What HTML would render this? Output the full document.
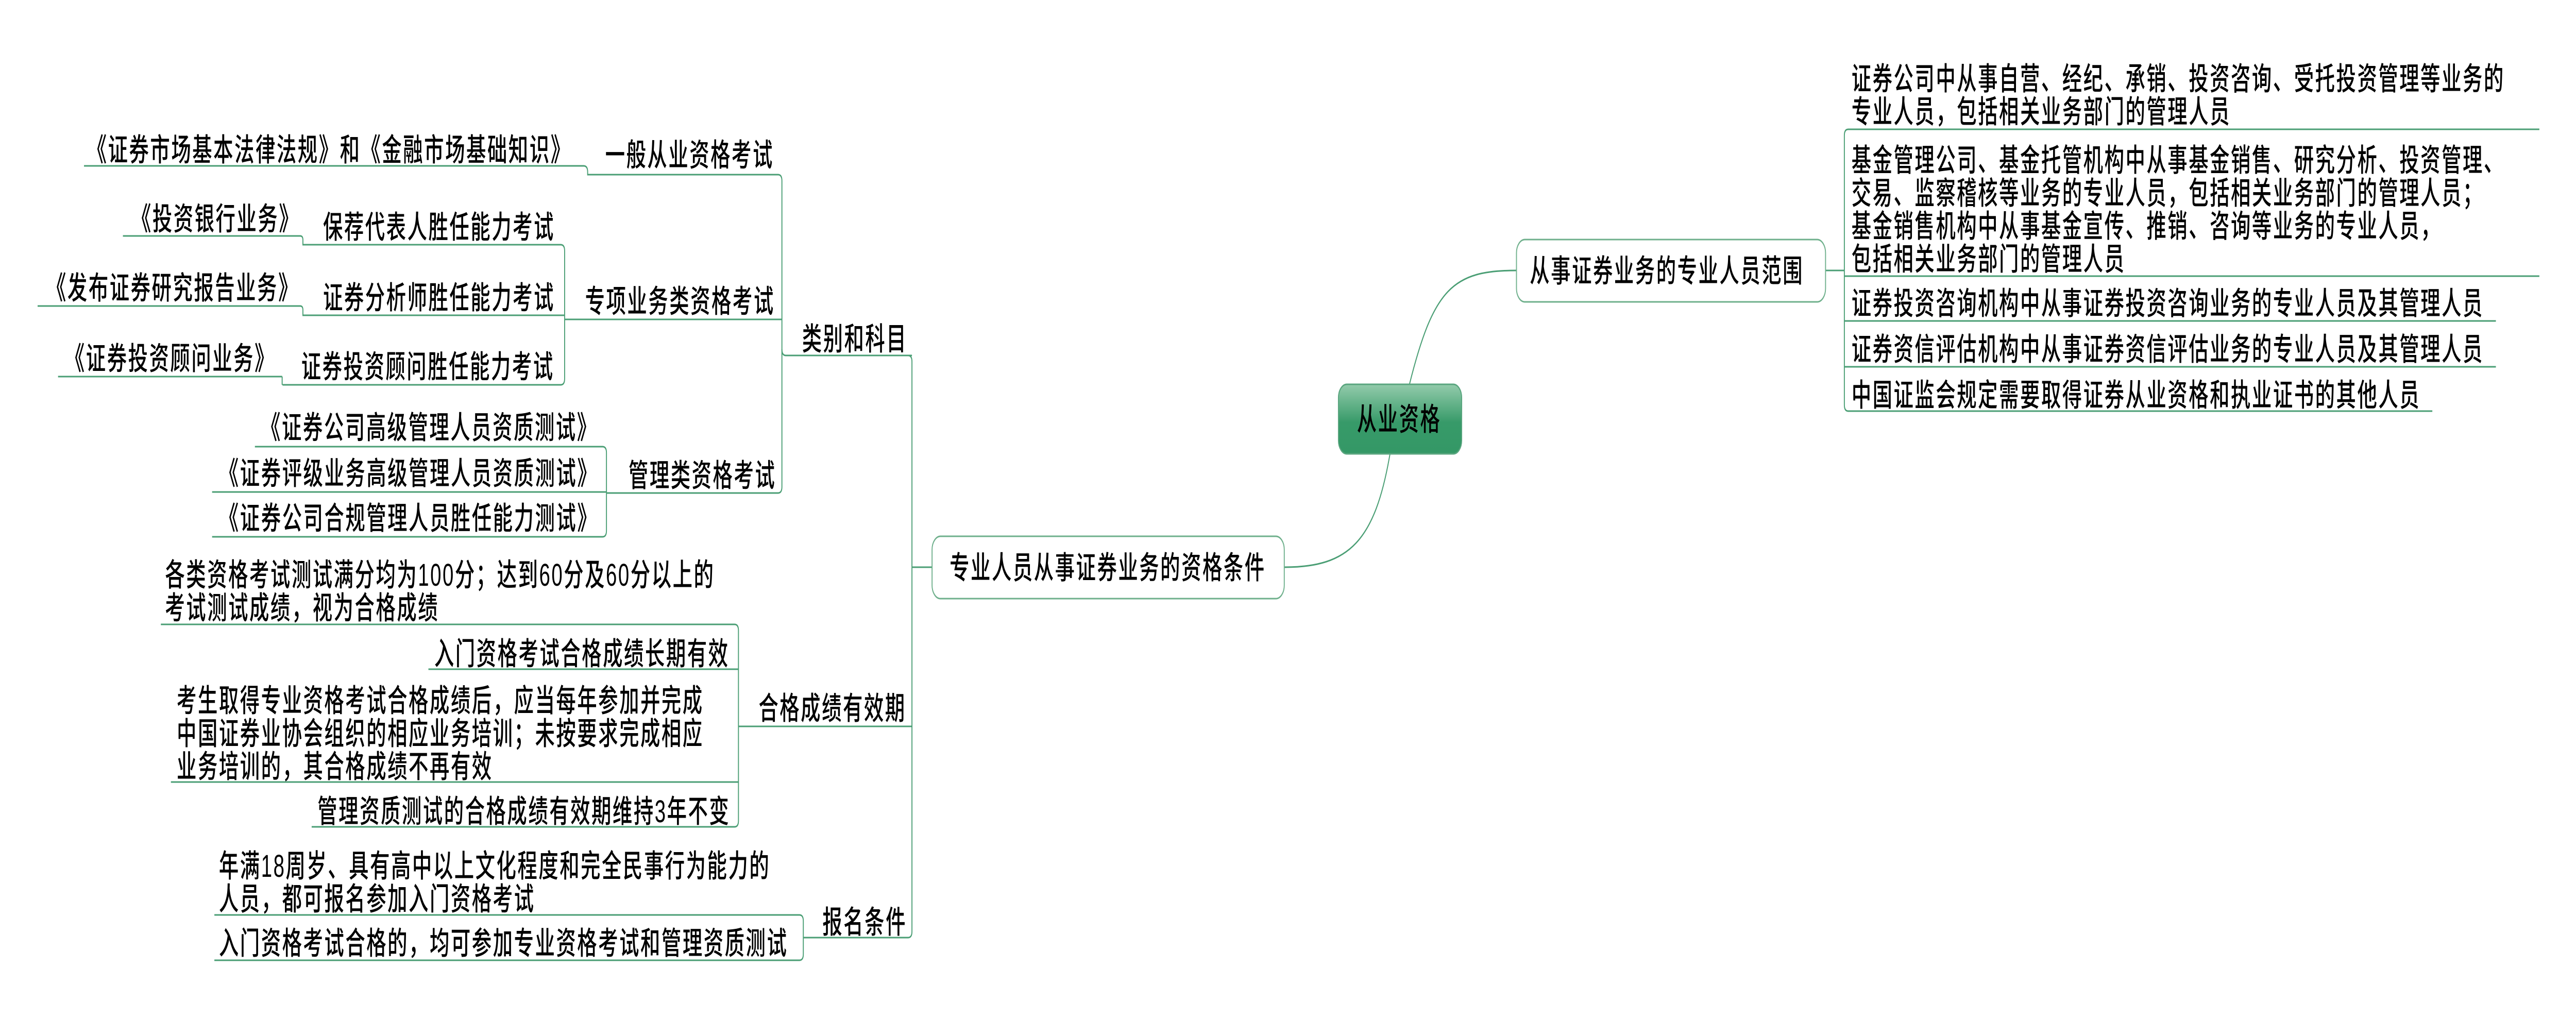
<!DOCTYPE html>
<html><head><meta charset="utf-8">
<style>
html,body{margin:0;padding:0;background:#fff;overflow:hidden;width:100vw;height:100vh;}
svg{display:block;width:100vw;height:100vh;}
text{font-family:"Liberation Sans","Noto Sans CJK SC",sans-serif;font-size:61px;letter-spacing:4px;fill:#000;font-weight:500;}
</style></head><body>
<svg viewBox="0 0 7943 1978" preserveAspectRatio="none">
<defs><linearGradient id="g" x1="0" y1="0" x2="0" y2="1">
<stop offset="0" stop-color="#93cbab"/><stop offset="0.55" stop-color="#379a69"/><stop offset="1" stop-color="#349866"/></linearGradient></defs>
<g fill="none" stroke="#4a9e74" stroke-width="3">
<path d="M259 322 H1800 Q1812 322 1812 334 V339 H2399 Q2411 339 2411 351 V945 Q2411 957 2399 957 H1870"/>
<path d="M2411 678 Q2411 690 2423 690 H2812"/>
<path d="M379 458 H926 Q934 458 934 466 V475 H1729 Q1741 475 1741 487 V735 Q1741 747 1729 747 H871"/>
<path d="M870 731 V747"/>
<path d="M179 731 H870"/>
<path d="M116 594 H926 Q934 594 934 602 V612 H1741"/>
<path d="M1741 620 H2411"/>
<path d="M786 867 H1858 Q1870 867 1870 879 V1030 Q1870 1042 1858 1042 H654"/>
<path d="M654 955 H1870"/>
<path d="M496 1212 H2265 Q2277 1212 2277 1224 V1593 Q2277 1605 2265 1605 H961"/>
<path d="M1321 1299 H2277"/>
<path d="M527 1518 H2277"/>
<path d="M2277 1410 H2812"/>
<path d="M661 1776 H2465 Q2477 1776 2477 1788 V1852 Q2477 1864 2465 1864 H661"/>
<path d="M2477 1820 H2800 Q2812 1820 2812 1808"/>
<path d="M2812 1808 V702 Q2812 690 2800 690"/>
<path d="M2812 1101 H2873"/>
<path d="M4286 881 C4240 1050 4160 1101 3961 1101"/>
<path d="M4346 746 C4420 560 4480 525 4675 525"/>
<path d="M5630 525 H5687"/>
<path d="M7830 251 H5699 Q5687 251 5687 263 V786 Q5687 798 5699 798 H7500"/>
<path d="M5687 536 H7830"/>
<path d="M5687 623 H7696"/>
<path d="M5687 712 H7696"/>
</g>
<rect x="4127" y="746" width="380" height="135" rx="26" fill="url(#g)" stroke="#5aa57f" stroke-width="3"/>
<rect x="2874" y="1041" width="1086" height="121" rx="26" fill="#fff" stroke="#6fb08c" stroke-width="3"/>
<rect x="4676" y="465" width="953" height="121" rx="26" fill="#fff" stroke="#6fb08c" stroke-width="3"/>

<text x="268" y="312">《证券市场基本法律法规》和《金融市场基础知识》</text>
<text x="1866" y="322">一般从业资格考试</text>
<text x="405" y="446">《投资银行业务》</text>
<text x="996" y="462">保荐代表人胜任能力考试</text>
<text x="143" y="580">《发布证券研究报告业务》</text>
<text x="996" y="599">证券分析师胜任能力考试</text>
<text x="1804" y="606">专项业务类资格考试</text>
<text x="200" y="717">《证券投资顾问业务》</text>
<text x="929" y="733">证券投资顾问胜任能力考试</text>
<text x="2473" y="679">类别和科目</text>
<text x="804" y="851">《证券公司高级管理人员资质测试》</text>
<text x="675" y="940">《证券评级业务高级管理人员资质测试》</text>
<text x="675" y="1027">《证券公司合规管理人员胜任能力测试》</text>
<text x="1938" y="944">管理类资格考试</text>

<text x="509" y="1137">各类资格考试测试满分均为100分；达到60分及60分以上的</text>
<text x="509" y="1201">考试测试成绩，视为合格成绩</text>
<text x="1339" y="1290">入门资格考试合格成绩长期有效</text>
<text x="545" y="1381">考生取得专业资格考试合格成绩后，应当每年参加并完成</text>
<text x="545" y="1445">中国证券业协会组织的相应业务培训；未按要求完成相应</text>
<text x="545" y="1509">业务培训的，其合格成绩不再有效</text>
<text x="979" y="1596">管理资质测试的合格成绩有效期维持3年不变</text>
<text x="2339" y="1396">合格成绩有效期</text>
<text x="675" y="1702">年满18周岁、具有高中以上文化程度和完全民事行为能力的</text>
<text x="675" y="1766">人员，都可报名参加入门资格考试</text>
<text x="675" y="1852">入门资格考试合格的，均可参加专业资格考试和管理资质测试</text>
<text x="2536" y="1811">报名条件</text>

<text x="2928" y="1123">专业人员从事证券业务的资格条件</text>
<text x="4184" y="835">从业资格</text>
<text x="4717" y="547">从事证券业务的专业人员范围</text>

<text x="5709" y="174">证券公司中从事自营、经纪、承销、投资咨询、受托投资管理等业务的</text>
<text x="5709" y="238">专业人员，包括相关业务部门的管理人员</text>
<text x="5709" y="332">基金管理公司、基金托管机构中从事基金销售、研究分析、投资管理、</text>
<text x="5709" y="396">交易、监察稽核等业务的专业人员，包括相关业务部门的管理人员；</text>
<text x="5709" y="460">基金销售机构中从事基金宣传、推销、咨询等业务的专业人员，</text>
<text x="5709" y="524">包括相关业务部门的管理人员</text>
<text x="5709" y="610">证券投资咨询机构中从事证券投资咨询业务的专业人员及其管理人员</text>
<text x="5709" y="699">证券资信评估机构中从事证券资信评估业务的专业人员及其管理人员</text>
<text x="5709" y="788">中国证监会规定需要取得证券从业资格和执业证书的其他人员</text>
</svg>
</body></html>
